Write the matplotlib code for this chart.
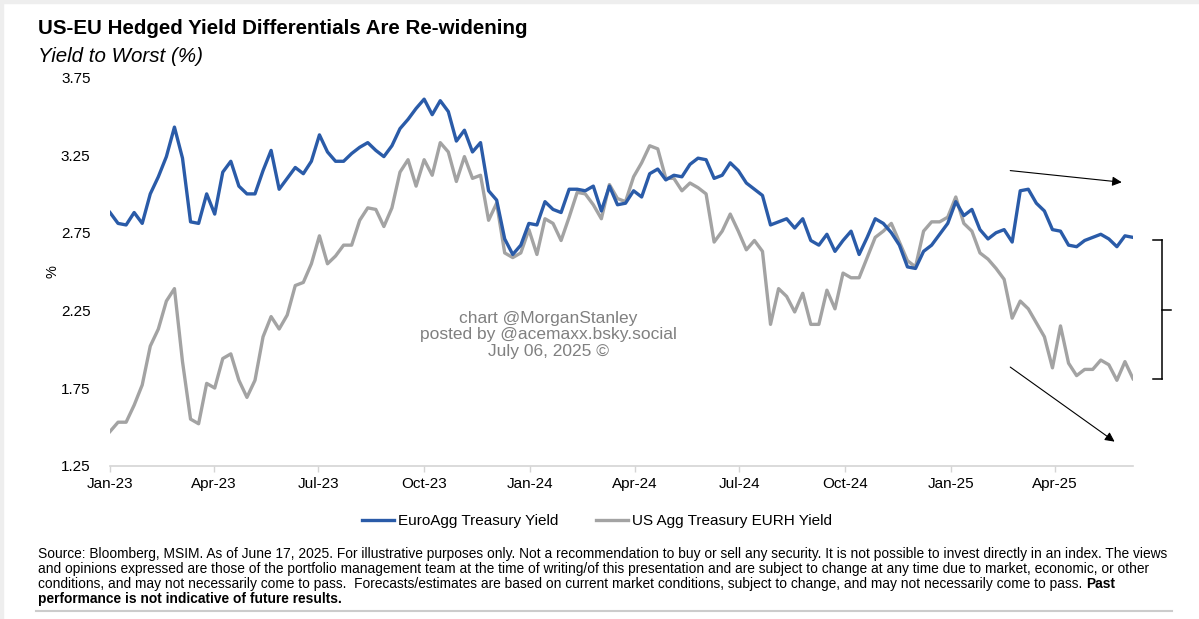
import numpy as np
import pandas as pd
import matplotlib
matplotlib.use("Agg")
import matplotlib.pyplot as plt
import matplotlib.dates as mdates
from matplotlib.patches import Rectangle
from matplotlib.lines import Line2D

plt.rcParams['font.family'] = ['Liberation Sans', 'DejaVu Sans']

# weekly observations, Jan 2023 - Jun 2025
dates = pd.date_range("2023-01-01", periods=128, freq="7D")

euro_agg = [2.88, 2.81, 2.80, 2.88, 2.81, 3.00, 3.11, 3.24, 3.43, 3.23,
            2.82, 2.81, 3.00, 2.87, 3.14, 3.21, 3.05, 3.00, 3.00, 3.15,
            3.28, 3.03, 3.10, 3.17, 3.13, 3.21, 3.38, 3.27, 3.21, 3.21,
            3.26, 3.30, 3.33, 3.28, 3.24, 3.31, 3.42, 3.48, 3.55, 3.61,
            3.51, 3.60, 3.53, 3.34, 3.41, 3.27, 3.33, 3.02, 2.96, 2.71,
            2.61, 2.67, 2.81, 2.80, 2.95, 2.90, 2.88, 3.03, 3.03, 3.02,
            3.05, 2.89, 3.05, 2.93, 2.94, 3.02, 2.98, 3.13, 3.16, 3.09,
            3.12, 3.11, 3.19, 3.23, 3.22, 3.10, 3.12, 3.20, 3.15, 3.07,
            3.03, 2.99, 2.80, 2.82, 2.84, 2.78, 2.84, 2.70, 2.67, 2.74,
            2.63, 2.70, 2.76, 2.61, 2.72, 2.84, 2.81, 2.75, 2.67, 2.53,
            2.52, 2.63, 2.67, 2.74, 2.81, 2.95, 2.86, 2.90, 2.77, 2.71,
            2.75, 2.77, 2.69, 3.02, 3.03, 2.94, 2.89, 2.77, 2.76, 2.67,
            2.66, 2.70, 2.72, 2.74, 2.71, 2.66, 2.73, 2.72]

us_agg_eurh = [1.47, 1.53, 1.53, 1.64, 1.77, 2.02, 2.13, 2.31, 2.39, 1.92,
               1.55, 1.52, 1.78, 1.75, 1.94, 1.97, 1.80, 1.69, 1.80, 2.08,
               2.21, 2.13, 2.22, 2.41, 2.43, 2.55, 2.73, 2.55, 2.60, 2.67,
               2.67, 2.83, 2.91, 2.90, 2.79, 2.91, 3.14, 3.22, 3.05, 3.22,
               3.12, 3.33, 3.27, 3.08, 3.24, 3.10, 3.12, 2.83, 2.94, 2.62,
               2.59, 2.62, 2.77, 2.61, 2.84, 2.81, 2.70, 2.85, 3.01, 3.00,
               2.93, 2.84, 3.06, 2.97, 2.95, 3.11, 3.20, 3.31, 3.29, 3.10,
               3.10, 3.02, 3.07, 3.04, 3.00, 2.69, 2.76, 2.87, 2.76, 2.64,
               2.70, 2.63, 2.16, 2.39, 2.34, 2.24, 2.36, 2.16, 2.16, 2.38,
               2.26, 2.49, 2.46, 2.46, 2.59, 2.72, 2.76, 2.81, 2.69, 2.57,
               2.53, 2.76, 2.82, 2.82, 2.85, 2.98, 2.81, 2.76, 2.62, 2.58,
               2.52, 2.45, 2.20, 2.31, 2.26, 2.17, 2.08, 1.88, 2.15, 1.91,
               1.83, 1.87, 1.87, 1.93, 1.90, 1.80, 1.92, 1.81]

y_ticks = [1.25, 1.75, 2.25, 2.75, 3.25, 3.75]

blue = "#2A5BA8"
grey = "#A3A3A3"

W, H = 1199, 619
fig = plt.figure(figsize=(W / 100, H / 100), dpi=100)
fig.patch.set_facecolor("white")

# faint frame of the screenshot
fig.patches.append(Rectangle((0, 0), 3 / W, 1, transform=fig.transFigure, color="#EEEEEE", zorder=0))
fig.patches.append(Rectangle((0, 1 - 3 / H), 1, 3 / H, transform=fig.transFigure, color="#EEEEEE", zorder=0))

ax = fig.add_axes([110 / W, 153.3 / H, 1023 / W, 388.3 / H])
ax.plot(dates, euro_agg, color=blue, lw=2.4, label="EuroAgg Treasury Yield", zorder=3)
ax.plot(dates, us_agg_eurh, color=grey, lw=2.4, label="US Agg Treasury EURH Yield", zorder=2)

ax.set_xlim(dates[0], dates[-1])
ax.set_ylim(1.25, 3.75)
ax.set_yticks(y_ticks)
ax.set_yticklabels([f"{v:.2f}" for v in y_ticks])
ax.xaxis.set_major_locator(mdates.MonthLocator(bymonth=[1, 4, 7, 10]))
ax.xaxis.set_major_formatter(mdates.DateFormatter("%b-%y"))

for s in ["top", "right", "left"]:
    ax.spines[s].set_visible(False)
ax.spines["bottom"].set_color("#D4D4D4")
ax.spines["bottom"].set_linewidth(1.2)
ax.tick_params(axis="x", direction="out", length=4, width=1, color="#D4D4D4",
               labelsize=11, pad=4)
ax.tick_params(axis="y", length=0, labelsize=11, pad=14)
ax.set_ylabel("%", fontsize=10.5, labelpad=1)

# watermark
fig.text(548 / W, 1 - 335 / H,
         "chart @MorganStanley\nposted by @acemaxx.bsky.social\nJuly 06, 2025 \u00a9",
         ha="center", va="center", fontsize=12.5, color="#808080", linespacing=1.1)

# trend arrows
arrow = dict(arrowstyle="-|>", color="black", lw=0.8, mutation_scale=14,
             shrinkA=0, shrinkB=0)
ax.annotate("", xy=(0.989, 0.730), xytext=(0.880, 0.760),
            xycoords="axes fraction", textcoords="axes fraction", arrowprops=arrow)
ax.annotate("", xy=(0.982, 0.062), xytext=(0.880, 0.254),
            xycoords="axes fraction", textcoords="axes fraction", arrowprops=arrow)

# bracket showing the gap
tr = ax.get_yaxis_transform()
top, bot = 2.70, 1.81
mid = (top + bot) / 2
bk = dict(color="black", lw=1.1, transform=tr, clip_on=False)
ax.add_line(Line2D([1.0284, 1.0284], [bot, top], **bk))
ax.add_line(Line2D([1.0196, 1.0284], [top, top], **bk))
ax.add_line(Line2D([1.0196, 1.0284], [bot, bot], **bk))
ax.add_line(Line2D([1.0284, 1.0372], [mid, mid], **bk))

# titles
fig.text(38 / W, 1 - 28 / H, "US-EU Hedged Yield Differentials Are Re-widening",
         fontsize=14.8, fontweight="bold", va="center", ha="left")
fig.text(38 / W, 1 - 57 / H, "Yield to Worst (%)", fontsize=14.8, style="italic",
         va="center", ha="left")

ax.legend(loc="center", bbox_to_anchor=(597 / W, 1 - 521 / H),
          bbox_transform=fig.transFigure, ncol=2, frameon=False, fontsize=11,
          handlelength=2.1, handletextpad=0.3, columnspacing=2.4)

# footnote
foot = [
    "Source: Bloomberg, MSIM. As of June 17, 2025. For illustrative purposes only. Not a recommendation to buy or sell any security. It is not possible to invest directly in an index. The views",
    "and opinions expressed are those of the portfolio management team at the time of writing/of this presentation and are subject to change at any time due to market, economic, or other",
    "conditions, and may not necessarily come to pass.  Forecasts/estimates are based on current market conditions, subject to change, and may not necessarily come to pass. ",
]
fs = 9.9
ys = [554, 569, 584, 599]
texts = []
for line, y in zip(foot, ys):
    texts.append(fig.text(38 / W, 1 - y / H, line, fontsize=fs, va="center", ha="left"))
fig.canvas.draw()
r = fig.canvas.get_renderer()
ext = texts[2].get_window_extent(r)
fig.text(ext.x1 / W, 1 - ys[2] / H, "Past", fontsize=fs, fontweight="bold", va="center", ha="left")
fig.text(38 / W, 1 - ys[3] / H, "performance is not indicative of future results.",
         fontsize=fs, fontweight="bold", va="center", ha="left")

fig.add_artist(Line2D([36 / W, 1172 / W], [1 - 611 / H, 1 - 611 / H], color="#CCCCCC", lw=1.5,
                      transform=fig.transFigure))

fig.savefig("out.png", dpi=100)
